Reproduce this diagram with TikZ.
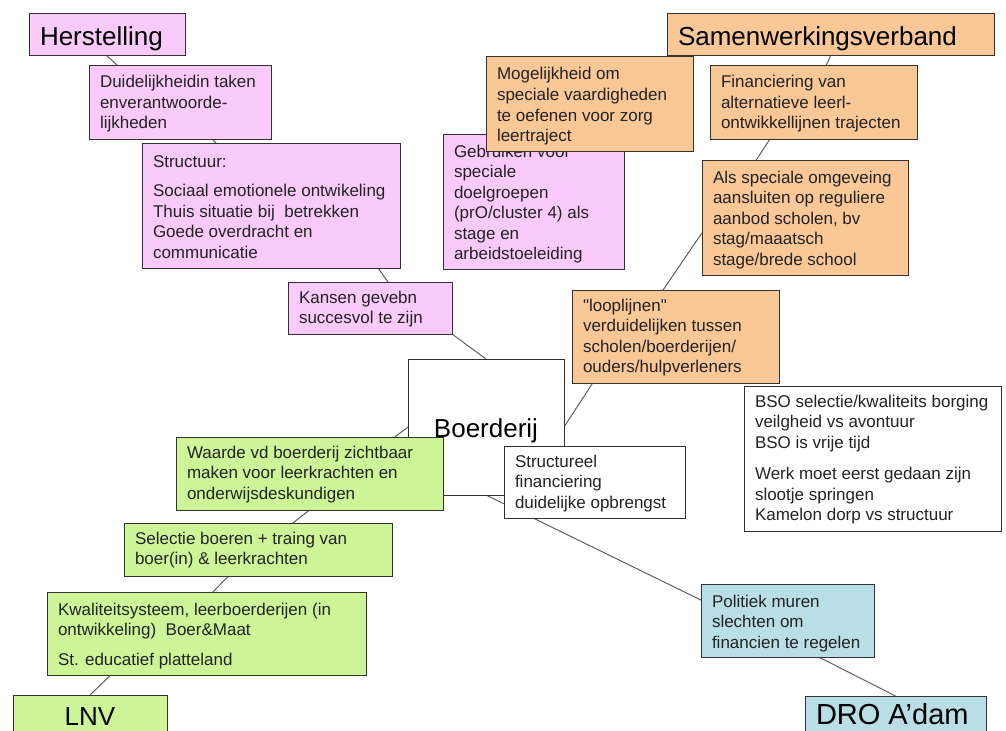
\documentclass[tikz,border=0pt]{standalone}
\usepackage{fontspec}
\setmainfont{Liberation Sans}[Ligatures=TeXOff]
\usetikzlibrary{calc,backgrounds}
\definecolor{pinkfill}{RGB}{250,202,250}
\definecolor{orangefill}{RGB}{250,199,150}
\definecolor{greenfill}{RGB}{205,245,152}
\definecolor{bluefill}{RGB}{185,222,230}
\definecolor{edgecol}{RGB}{50,50,50}
\definecolor{linkcol}{RGB}{95,95,95}
\definecolor{txtcol}{RGB}{35,35,35}
\newcommand\cardbody{\fontsize{17bp}{20.5bp}\selectfont}
\newcommand\cardtitle{\fontsize{26bp}{30bp}\selectfont}
% [first baseline]{width}{height}{text}
\newcommand\cardtext[4][22bp]{\parbox[c][#3][t]{#2}{\raggedright\leftskip=11bp\rule{0pt}{#1}#4}}
\newcommand\cardcenter[4][22bp]{\parbox[c][#3][t]{#2}{\centering\rule{0pt}{#1}#4}}
\tikzset{
  card/.style={draw=edgecol, line width=1bp, inner sep=0pt, outer sep=0pt,
    anchor=north west, text=txtcol, font=\cardbody},
  pinkcard/.style={card, fill=pinkfill},
  orangecard/.style={card, fill=orangefill},
  greencard/.style={card, fill=greenfill},
  bluecard/.style={card, fill=bluefill},
  whitecard/.style={card, fill=white},
  titlecard/.style={text=black, font=\cardtitle},
  link/.style={draw=linkcol, line width=1bp}
}
\begin{document}
\begin{tikzpicture}[x=1bp,y=-1bp]
\useasboundingbox (0,0) rectangle (1006,731);
\clip (0,0) rectangle (1006,731);

% pink branch
\node[pinkcard, titlecard] (herst) at (29,14)
  {\cardtext[32bp]{156bp}{42bp}{Herstelling}};
\node[pinkcard] (duid) at (89,66)
  {\cardtext{182bp}{73bp}{Duidelijkheidin taken\\enverantwoorde-\\lijkheden}};
\node[pinkcard] (struct) at (142,144)
  {\cardtext[23bp]{258bp}{124bp}{Structuur:\\[9bp]Sociaal emotionele ontwikeling\\Thuis situatie bij~ betrekken\\Goede overdracht en\\communicatie}};
\node[pinkcard] (kansen) at (288,282)
  {\cardtext[21bp]{164bp}{52bp}{Kansen gevebn\\succesvol te zijn}};
\node[pinkcard] (geb) at (443,135)
  {\cardtext{181bp}{134bp}{Gebruiken voor\\speciale\\doelgroepen\\(prO/cluster 4) als\\stage en\\arbeidstoeleiding}};

% orange branch
\node[orangecard] (mog) at (486,57)
  {\cardtext[23bp]{207bp}{94bp}{Mogelijkheid om\\speciale vaardigheden\\te oefenen voor zorg\\leertraject}};
\node[orangecard, titlecard] (samen) at (667,14)
  {\cardtext[32bp]{327bp}{42bp}{Samenwerkingsverband}};
\node[orangecard] (fin) at (710,66)
  {\cardtext{207bp}{73bp}{Financiering van\\alternatieve leerl-\\ontwikkellijnen trajecten}};
\node[orangecard] (als) at (702,161)
  {\cardtext{206bp}{114bp}{Als speciale omgeveing\\aansluiten op reguliere\\aanbod scholen, bv\\stag/maaatsch\\stage/brede school}};
\node[orangecard] (loop) at (572,290)
  {\cardtext[21bp]{207bp}{93bp}{"looplijnen"\\verduidelijken tussen\\scholen/boerderijen/\\ouders/hulpverleners}};

% centre
\node[whitecard, titlecard] (boer) at (408,359)
  {\cardcenter[78bp]{156bp}{136bp}{Boerderij}};
\node[whitecard] (struc2) at (504,446)
  {\cardtext[21bp]{181bp}{72bp}{Structureel\\financiering\\duidelijke opbrengst}};
\node[whitecard] (bso) at (744,386)
  {\cardtext[21bp]{257bp}{145bp}{BSO selectie/kwaliteits borging\\veilgheid vs avontuur\\BSO is vrije tijd\\[11bp]Werk moet eerst gedaan zijn\\slootje springen\\Kamelon dorp vs structuur}};

% green branch
\node[greencard] (waarde) at (176,437)
  {\cardtext[21bp]{267bp}{73bp}{Waarde vd boerderij zichtbaar\\maken voor leerkrachten en\\onderwijsdeskundigen}};
\node[greencard] (sel) at (124,523)
  {\cardtext[21bp]{268bp}{53bp}{Selectie boeren + traing van\\boer(in) \& leerkrachten}};
\node[greencard] (kwal) at (47,592)
  {\cardtext[23bp]{319bp}{83bp}{Kwaliteitsysteem, leerboerderijen (in\\ontwikkeling)~ Boer\&Maat\\[9bp]St. educatief platteland}};
\node[greencard, titlecard] (lnv) at (13,695)
  {\cardcenter[30bp]{154bp}{42bp}{LNV}};

% blue branch
\node[bluecard] (pol) at (701,584)
  {\cardtext[23bp]{173bp}{73bp}{Politiek muren\\slechten om\\financien te regelen}};
\node[bluecard, titlecard, font=\fontsize{29bp}{33bp}\selectfont] (dro) at (805,696)
  {\cardtext[28bp]{181bp}{44bp}{DRO A’dam}};

\begin{pgfonlayer}{background}
\path[link] (herst.south) -- ($(duid.north west)!0.16!(duid.north east)$);
\path[link] ($(duid.south west)!0.676!(duid.south east)$) -- ($(struct.north west)!0.29!(struct.north east)$);
\path[link] ($(struct.south west)!0.915!(struct.south east)$) -- ($(kansen.north west)!0.61!(kansen.north east)$);
\path[link] (kansen.south east) -- (boer.north);
\path[link] ($(waarde.north west)!0.82!(waarde.north east)$) -- (boer.west);
\path[link] (waarde.south) -- ($(sel.north west)!0.63!(sel.north east)$);
\path[link] ($(sel.south west)!0.39!(sel.south east)$) -- ($(kwal.north west)!0.52!(kwal.north east)$);
\path[link] ($(kwal.south west)!0.2!(kwal.south east)$) -- (lnv.north);
\path[link] (boer.south) -- ($(pol.north west)!0.22!(pol.south west)$);
\path[link] ($(pol.south west)!0.68!(pol.south east)$) -- (dro.north);
\path[link] (boer.east) -- ($(loop.south west)!0.1!(loop.south east)$);
\path[link] ($(loop.north west)!0.44!(loop.north east)$) -- ($(als.north west)!0.63!(als.south west)$);
\path[link] ($(fin.south west)!0.29!(fin.south east)$) -- ($(als.north west)!0.26!(als.north east)$);
\path[link] (samen.south) -- ($(fin.north west)!0.56!(fin.north east)$);
\end{pgfonlayer}
\end{tikzpicture}
\end{document}
